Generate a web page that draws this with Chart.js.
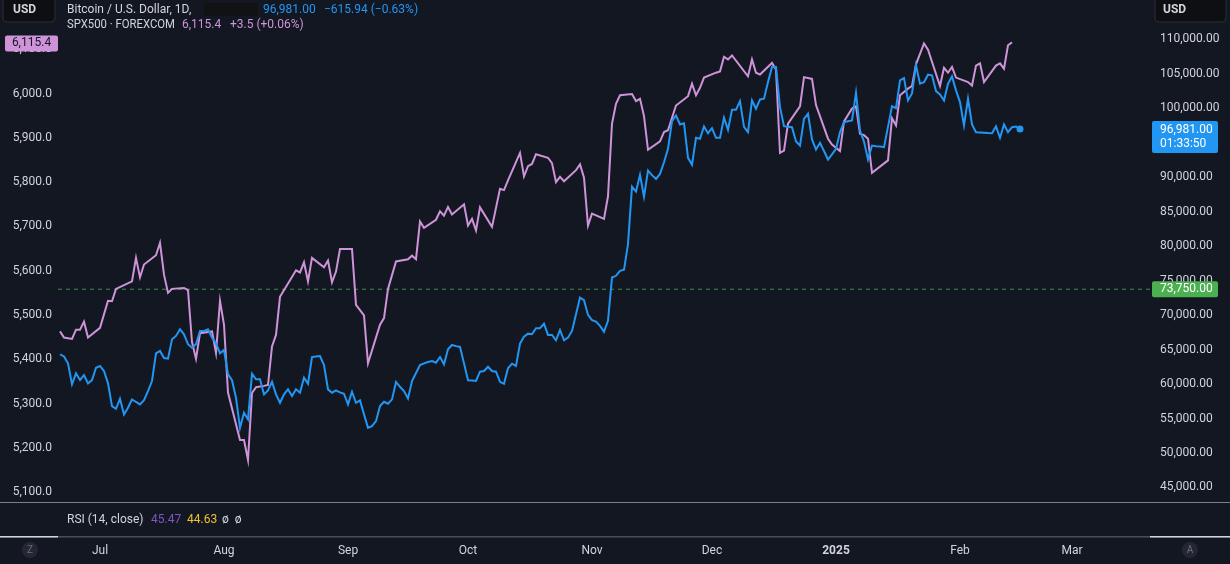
<!DOCTYPE html>
<html>
<head>
<meta charset="utf-8">
<script src="https://cdn.jsdelivr.net/npm/chart.js@4.4.1/dist/chart.umd.min.js"></script>
<style>
  html, body { margin:0; padding:0; background:#131722; }
  canvas { display:block; }
</style>
</head>
<body>
<canvas id="c" width="1230" height="564"></canvas>
<script>
// x values are days since 2024-07-01
const monthDays = [0, 31, 62, 92, 123, 153, 184, 215, 243];
const monthLabels = ['Jul','Aug','Sep','Oct','Nov','Dec','2025','Feb','Mar'];

const spxTicks = [5100,5200,5300,5400,5500,5600,5700,5800,5900,6000,6100];
const btcTicks = [45000,50000,55000,60000,65000,70000,75000,80000,85000,90000,95000,100000,105000,110000];

// Bitcoin daily closes, first value is day -10 (Jun 21)
const btcStartDay = -10;
const btcValues = [
  64320,64000,63010,59960,61560,60580,61310,60100,60580,62370,
  62620,61890,60100,56800,56410,57860,55600,56560,57780,57400,
  57050,57670,58980,60440,64460,64800,63780,63680,66500,66980,
  67950,67220,65770,65280,65770,67700,67700,67950,66730,65920,
  64460,64940,61410,60560,58010,53650,55830,54870,61500,60680,
  60680,58500,59080,60330,58500,57280,58500,59230,58260,59230,
  58740,60920,60040,63920,64000,64070,62760,59230,58740,59080,
  58800,58590,57050,58880,57280,57630,55600,53650,53900,54620,
  56800,57430,57140,57780,60310,59600,58980,57920,60440,61600,
  62760,63000,63200,63340,63100,63920,62860,65040,65670,65500,
  65380,63000,60540,60500,60440,61790,61890,62510,61890,61790,
  60330,60040,62280,62950,62620,65860,66880,67310,67220,68100,
  68100,68760,67120,67120,66350,67850,66350,66730,67700,70130,
  72540,72170,70030,69260,69060,68430,67560,69160,75450,75700,
  76420,76570,80300,88630,87910,90330,87180,90960,90300,89750,
  90480,92170,94110,98130,98950,97650,97830,92810,91790,95710,
  95570,97360,96380,97110,95710,95710,98620,96880,99780,99780,
  101030,97300,96530,101130,99930,101280,101380,103790,105970,105970,
  100160,97400,97300,97250,95170,94590,98470,99200,95470,94010,
  94990,93800,92560,93300,94110,96530,97980,98100,98230,102250,
  96770,95170,92560,94590,94500,94450,94350,97300,100300,100010,
  104040,104380,101130,102150,106220,103560,103790,104870,104770,102490,
  102010,101130,103560,104620,102590,100890,97500,101380,97650,96530,
  96500,96450,96400,96380,97360,95710,97650,96530,97250,97360,
  96981
];

// SPX500 trading days
const spxDays = [
  -10,-9,-7,-6,-5,-4,-3,0,2,3,4,8,9,10,11,14,15,16,17,18,
  21,22,23,24,25,28,29,30,31,32,35,36,37,38,39,41,42,43,44,45,
  49,50,51,52,53,56,57,58,59,60,63,64,66,67,70,71,72,74,77,78,
  79,80,81,84,85,86,87,88,91,92,93,94,95,98,100,101,102,105,106,107,
  108,109,112,113,114,115,116,119,120,121,122,123,126,127,128,129,130,133,134,135,
  136,137,140,141,142,143,144,147,148,149,150,151,154,155,156,157,158,162,163,164,
  165,168,169,170,171,172,175,176,178,179,182,183,185,186,188,189,190,191,192,193,
  197,198,199,200,202,203,204,206,207,210,211,212,213,214,217,218,219,220,221,224,
  225,226,227,228
];
const spxValues = [
  5463,5449,5446,5467,5467,5485,5449,5471,5532,5531,5559,5576,5629,5585,5614,5635,5663,5591,5550,5559,
  5561,5556,5439,5401,5459,5463,5414,5532,5478,5325,5218,5218,5173,5324,5337,5340,5342,5429,5455,5541,
  5601,5596,5619,5576,5629,5608,5623,5574,5598,5649,5649,5523,5499,5391,5478,5493,5559,5621,5626,5634,
  5626,5711,5697,5715,5734,5724,5744,5727,5750,5702,5717,5691,5743,5699,5785,5782,5804,5866,5813,5836,
  5841,5863,5855,5843,5800,5812,5802,5827,5840,5810,5702,5729,5717,5768,5932,5977,5996,5999,5983,5988,
  5949,5873,5892,5913,5917,5945,5973,5994,6022,5996,6013,6036,6047,6050,6083,6077,6086,6039,6077,6047,
  6043,6069,6054,5866,5871,5932,5971,6037,6033,5974,5898,5885,5870,5937,5966,5971,5909,5906,5898,5821,
  5849,5944,5928,5996,6011,6017,6066,6113,6099,6017,6058,6047,6060,6036,6026,6018,6063,6068,6026,6063,
  6068,6056,6109,6115.4
];

const alertLevel = 73750;
const btcLast = btcValues[btcValues.length - 1];
const spxLast = spxValues[spxValues.length - 1];

const BG = '#131722';
const TXT = '#d1d4dc';
const BLUE = '#2196f3';
const PINK = '#ce93d8';
const FONT = 'Roboto, "Liberation Sans", sans-serif';

const xMin = -10.5, xMax = 262.5;

function box(g, x, y, w, h, r, fill, stroke){
  g.beginPath();
  g.roundRect(x, y, w, h, r);
  g.fillStyle = fill; g.fill();
  if(stroke){ g.strokeStyle = stroke; g.lineWidth = 1; g.stroke(); }
}

function text(g, s, x, y, color, font, align, maxW){
  g.font = font || ('12px ' + FONT);
  g.fillStyle = color;
  g.textAlign = align || 'left';
  g.textBaseline = 'middle';
  if(maxW) g.fillText(s, x, y, maxW); else g.fillText(s, x, y);
}

const chrome = {
  id: 'chrome',
  beforeDraw(c){
    const g = c.ctx;
    g.save(); g.fillStyle = BG; g.fillRect(0, 0, c.width, c.height); g.restore();
  },
  afterDraw(c){
    const g = c.ctx;
    const W = c.width;
    g.save();

    // pane separators
    g.fillStyle = '#7d808a'; g.fillRect(0, 502, W, 1);
    g.fillStyle = '#4a4e59'; g.fillRect(0, 536, W, 1.5);
    g.fillStyle = TXT; g.fillRect(0, 536, 58, 1.5); g.fillRect(1150, 536, W - 1150, 1.5);

    // RSI pane legend
    text(g, 'RSI (14, close)', 67, 520, TXT);
    text(g, '45.47', 151, 520, '#7e57c2');
    text(g, '44.63', 187, 520, '#f2c12e');
    text(g, '\u00f8  \u00f8', 222, 520, TXT);

    // top legend
    text(g, 'Bitcoin / U.S. Dollar, 1D,', 67, 10, TXT);
    box(g, 204, 3, 54, 13, 0, '#111214');
    text(g, '96,981.00', 263, 10, BLUE);
    text(g, '\u2212615.94 (\u22120.63%)', 324, 10, BLUE);
    text(g, 'SPX500 \u00b7 FOREXCOM', 67, 25, TXT, null, 'left', 108);
    text(g, '6,115.4', 182, 25, PINK);
    text(g, '+3.5 (+0.06%)', 230, 25, PINK);

    // currency buttons
    box(g, 3, -4, 52, 26, 4, '#0e0f12', '#2a2e39');
    text(g, 'USD', 13, 10, TXT, 'bold 12px ' + FONT);
    box(g, 1155, -4, 71, 26, 4, '#0e0f12', '#2a2e39');
    text(g, 'USD', 1163, 10, TXT, 'bold 12px ' + FONT);

    // price labels
    const ys = c.scales.ySpx, yb = c.scales.yBtc;
    const py = ys.getPixelForValue(spxLast);
    box(g, 5, py - 7, 53, 16, 2, PINK);
    text(g, '6,115.4', 31.5, py + 1, BG, '12px ' + FONT, 'center');

    const by = yb.getPixelForValue(btcLast);
    box(g, 1152, by - 8, 66, 32, 2, BLUE);
    text(g, '96,981.00', 1160, by + 1, '#ffffff');
    text(g, '01:33:50', 1160, by + 15, '#ffffff');

    const gy = yb.getPixelForValue(alertLevel);
    box(g, 1152, gy - 8, 66, 16, 2, '#4caf50');
    text(g, '73,750.00', 1160, gy, '#ffffff');

    // scale mode buttons
    g.beginPath(); g.arc(30, 550, 8, 0, Math.PI * 2); g.fillStyle = '#242733'; g.fill();
    text(g, 'Z', 30, 550, '#6a6d78', '10px ' + FONT, 'center');
    g.beginPath(); g.arc(1190, 550, 8, 0, Math.PI * 2); g.fillStyle = '#242733'; g.fill();
    text(g, 'A', 1190, 550, '#6a6d78', '10px ' + FONT, 'center');

    g.restore();
  }
};

const ctx = document.getElementById('c').getContext('2d');
const chart = new Chart(ctx, {
  type: 'line',
  data: {
    datasets: [
      {
        label: 'Bitcoin / U.S. Dollar',
        data: btcValues.map((v, i) => ({x: btcStartDay + i, y: v})),
        yAxisID: 'yBtc',
        borderColor: BLUE,
        backgroundColor: BLUE,
        borderWidth: 2,
        pointRadius: (p) => p.dataIndex === btcValues.length - 1 ? 3.5 : 0,
        pointBorderWidth: 0,
        tension: 0
      },
      {
        label: 'SPX500',
        data: spxValues.map((v, i) => ({x: spxDays[i], y: v})),
        yAxisID: 'ySpx',
        borderColor: PINK,
        borderWidth: 2,
        pointRadius: 0,
        tension: 0
      },
      {
        label: 'Alert',
        data: [{x: xMin, y: alertLevel}, {x: xMax, y: alertLevel}],
        yAxisID: 'yBtc',
        borderColor: '#3f8f45',
        borderWidth: 1,
        borderDash: [4, 4],
        pointRadius: 0
      }
    ]
  },
  options: {
    responsive: false,
    animation: false,
    layout: { padding: { top: 28 } },
    plugins: { legend: { display: false }, tooltip: { enabled: false } },
    scales: {
      x: {
        type: 'linear', min: xMin, max: xMax,
        afterBuildTicks: (s) => { s.ticks = monthDays.map(v => ({value: v})); },
        afterFit: (s) => { s.height = 64; },
        grid: { display: false, drawTicks: false },
        border: { display: false },
        ticks: {
          autoSkip: false, maxRotation: 0, padding: 44,
          color: TXT,
          font: (t) => ({ family: FONT, size: 12, weight: (t.tick && t.tick.value === 184) ? 'bold' : 'normal' }),
          callback: (v, i) => monthLabels[i]
        }
      },
      ySpx: {
        position: 'left', min: 5082.4, max: 6147.9,
        afterBuildTicks: (s) => { s.ticks = spxTicks.map(v => ({value: v})); },
        afterFit: (s) => { s.width = 58; },
        grid: { display: false, drawTicks: false },
        border: { display: false },
        ticks: {
          padding: 6, color: TXT, font: { family: FONT, size: 12 },
          callback: (v) => v.toLocaleString('en-US', {minimumFractionDigits: 1, maximumFractionDigits: 1})
        }
      },
      yBtc: {
        position: 'right', min: 43183, max: 111639,
        afterBuildTicks: (s) => { s.ticks = btcTicks.map(v => ({value: v})); },
        afterFit: (s) => { s.width = 80; },
        grid: { display: false, drawTicks: false },
        border: { display: false },
        ticks: {
          padding: 10, color: TXT, font: { family: FONT, size: 12 },
          callback: (v) => v.toLocaleString('en-US', {minimumFractionDigits: 2, maximumFractionDigits: 2})
        }
      }
    }
  },
  plugins: [chrome]
});
</script>
</body>
</html>
